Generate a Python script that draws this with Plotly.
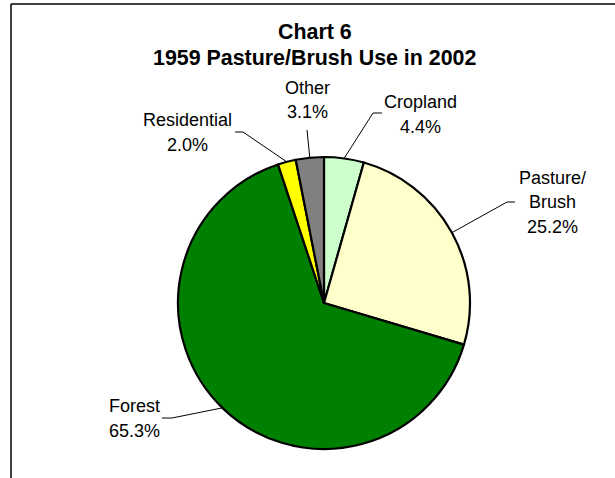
import math
import plotly.graph_objects as go

categories = ["Cropland", "Pasture/<br>Brush", "Forest", "Residential", "Other"]
label_lines = [["Cropland"], ["Pasture/", "Brush"], ["Forest"], ["Residential"], ["Other"]]
values = [4.4, 25.2, 65.3, 2.0, 3.1]
colors = ["#CCFFCC", "#FFFFCC", "#008000", "#FFFF00", "#808080"]
title_lines = ["Chart 6", "1959 Pasture/Brush Use in 2002"]

W, H = 615, 478
CX, CY, R = 324, 303, 146  # pie centre / radius in pixels


def px(x):
    return x / W


def py(y):
    return 1 - y / H


# label placement (pixels): centre x, first line y, elbow point, tail end
label_layout = [
    dict(x=420, y0=102, elbow=(373, 113), tail=(382, 113)),
    dict(x=552, y0=178, elbow=(507, 202), tail=(515, 202)),
    dict(x=134, y0=406, elbow=(172, 418), tail=(162, 418)),
    dict(x=187, y0=120, elbow=(243, 132), tail=(235, 132)),
    dict(x=307, y0=88, elbow=(307, 130), tail=None),
]
LINE_H = 24.5

fig = go.Figure(
    go.Pie(
        labels=categories,
        values=values,
        sort=False,
        direction="clockwise",
        rotation=0,
        marker=dict(colors=colors, line=dict(color="black", width=2.2)),
        textinfo="none",
        hoverinfo="label+percent",
        showlegend=False,
        domain=dict(x=[px(CX - R), px(CX + R)], y=[py(CY + R), py(CY - R)]),
    )
)

total = sum(values)
cum = 0.0
shapes = []
annotations = []
for i, v in enumerate(values):
    mid = (cum + v / 2) / total * 2 * math.pi
    cum += v
    ex = CX + R * math.sin(mid)
    ey = CY - R * math.cos(mid)
    L = label_layout[i]
    bx, by = L["elbow"]
    shapes.append(dict(type="line", xref="paper", yref="paper",
                       x0=px(ex), y0=py(ey), x1=px(bx), y1=py(by),
                       line=dict(color="black", width=1)))
    if L["tail"] is not None:
        tx, ty = L["tail"]
        shapes.append(dict(type="line", xref="paper", yref="paper",
                           x0=px(bx), y0=py(by), x1=px(tx), y1=py(ty),
                           line=dict(color="black", width=1)))
    lines = label_lines[i] + [f"{v:.1f}%"]
    for k, t in enumerate(lines):
        annotations.append(dict(text=t, xref="paper", yref="paper",
                                x=px(L["x"]), y=py(L["y0"] + k * LINE_H),
                                xanchor="center", yanchor="middle", showarrow=False,
                                font=dict(family="Liberation Sans, Arial", size=18, color="black")))

for k, t in enumerate(title_lines):
    annotations.append(dict(text=f"<b>{t}</b>", xref="paper", yref="paper",
                            x=px(315), y=py(32 + k * 26),
                            xanchor="center", yanchor="middle", showarrow=False,
                            font=dict(family="Liberation Sans, Arial", size=21.4, color="black")))

# chart frame
shapes.append(dict(type="line", xref="paper", yref="paper", x0=px(11), y0=py(4), x1=1.01, y1=py(4),
                   line=dict(color="black", width=1.5)))
shapes.append(dict(type="line", xref="paper", yref="paper", x0=px(11), y0=py(4), x1=px(11), y1=-0.01,
                   line=dict(color="black", width=1.5)))

fig.update_layout(
    width=W, height=H,
    margin=dict(l=0, r=0, t=0, b=0),
    paper_bgcolor="white",
    plot_bgcolor="white",
    shapes=shapes,
    annotations=annotations,
)

fig.write_html("out.html",
               config={"displayModeBar": False},
               post_script="document.body.style.margin='0';document.body.style.overflow='hidden';")
